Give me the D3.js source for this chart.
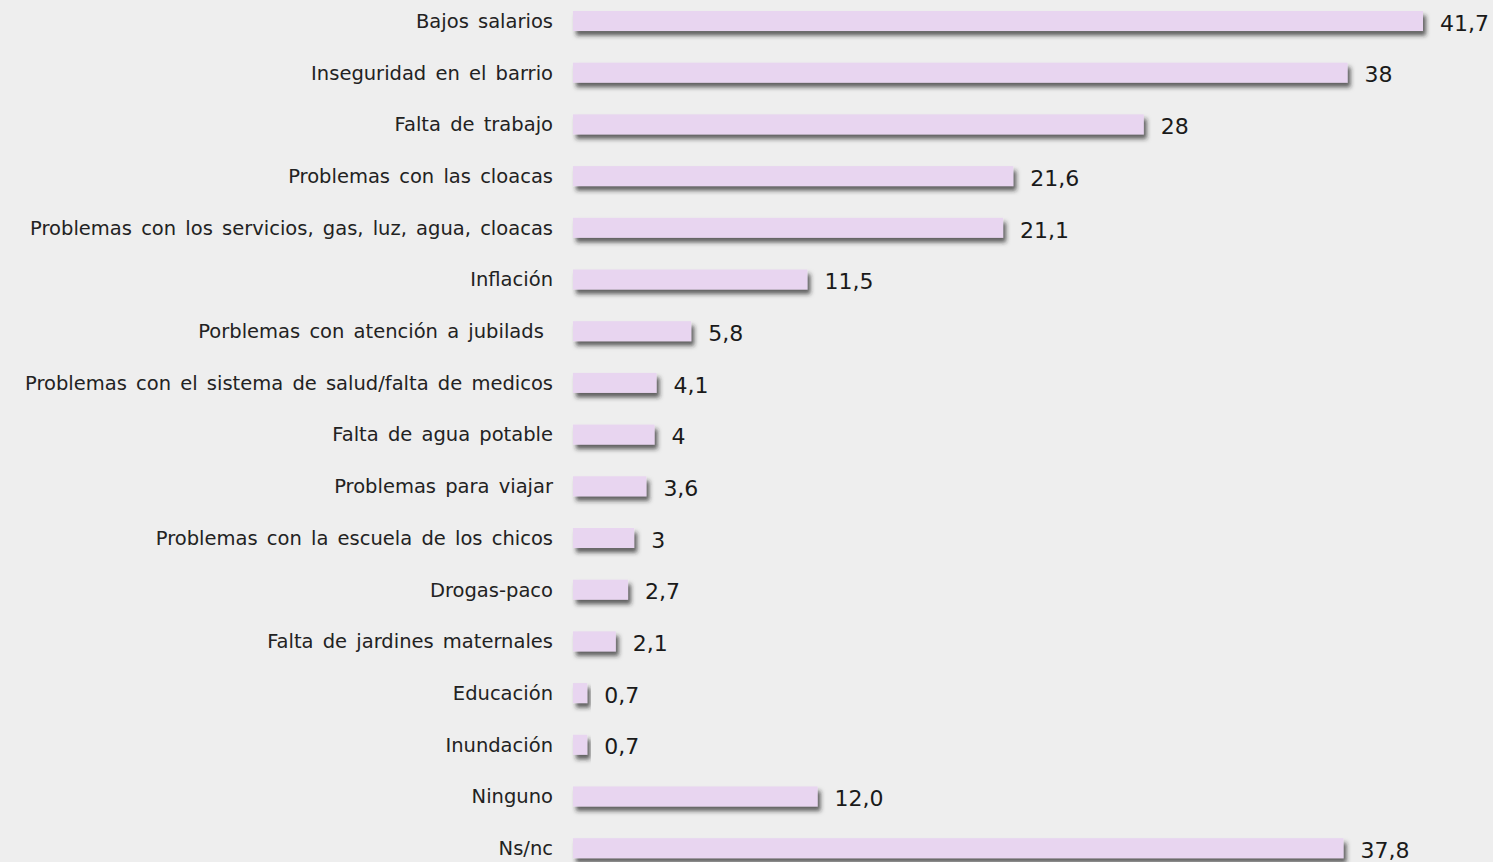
<!DOCTYPE html>
<html><head><meta charset="utf-8">
<script src="https://cdn.jsdelivr.net/npm/d3@7"></script>
<style>
html,body{margin:0;padding:0;background:#eeeeee;}
svg{display:block;}
</style></head>
<body>
<svg id="chart" width="1493" height="862"></svg>
<script>
const categories = ["Bajos salarios","Inseguridad en el barrio","Falta de trabajo","Problemas con las cloacas","Problemas con los servicios, gas, luz, agua, cloacas","Inflación","Porblemas con atención a jubilads ","Problemas con el sistema de salud/falta de medicos","Falta de agua potable","Problemas para viajar","Problemas con la escuela de los chicos","Drogas-paco","Falta de jardines maternales","Educación","Inundación","Ninguno","Ns/nc"];
const values = [41.7,38,28,21.6,21.1,11.5,5.8,4.1,4,3.6,3,2.7,2.1,0.7,0.7,12.0,37.8];
const valueLabels = ["41,7","38","28","21,6","21,1","11,5","5,8","4,1","4","3,6","3","2,7","2,1","0,7","0,7","12,0","37,8"];

const W = 1493, H = 862;
const x0 = 573;
const svg = d3.select("#chart");
svg.append("rect").attr("width",W).attr("height",H).attr("fill","#eeeeee");

const defs = svg.append("defs");
const f = defs.append("filter").attr("id","sh").attr("x","-10%").attr("y","-50%").attr("width","130%").attr("height","250%");
f.append("feDropShadow").attr("dx",3).attr("dy",4.5).attr("stdDeviation",2.3).attr("flood-color","#222").attr("flood-opacity",0.7);

const x = d3.scaleLinear().domain([0,41.7]).range([x0,1423]);
const y = d3.scaleBand().domain(d3.range(categories.length)).range([11,858.2]).paddingInner(0.613).paddingOuter(0);

const g = svg.append("g");
const rows = g.selectAll("g.row").data(values).join("g").attr("class","row");

rows.append("rect")
  .attr("x",x(0))
  .attr("y",(d,i)=>y(i))
  .attr("width",d=>x(d)-x(0))
  .attr("height",y.bandwidth())
  .attr("fill","#e8d5f0")
  .attr("filter","url(#sh)");

rows.append("text")
  .attr("x",553)
  .attr("y",(d,i)=>y(i)+y.bandwidth()/2)
  .attr("dy","0.35em")
  .attr("text-anchor","end")
  .style("white-space","pre")
  .style("word-spacing","3px")
  .attr("font-family","'DejaVu Sans', sans-serif")
  .attr("font-size",19.5)
  .attr("fill","#222")
  .text((d,i)=>categories[i]);

rows.append("text")
  .attr("x",d=>x(d)+17)
  .attr("y",(d,i)=>y(i)+y.bandwidth()/2+2)
  .attr("dy","0.35em")
  .attr("font-family","'DejaVu Sans', sans-serif")
  .attr("font-size",22)
  .attr("fill","#1a1a1a")
  .text((d,i)=>valueLabels[i]);
</script>
</body></html>
